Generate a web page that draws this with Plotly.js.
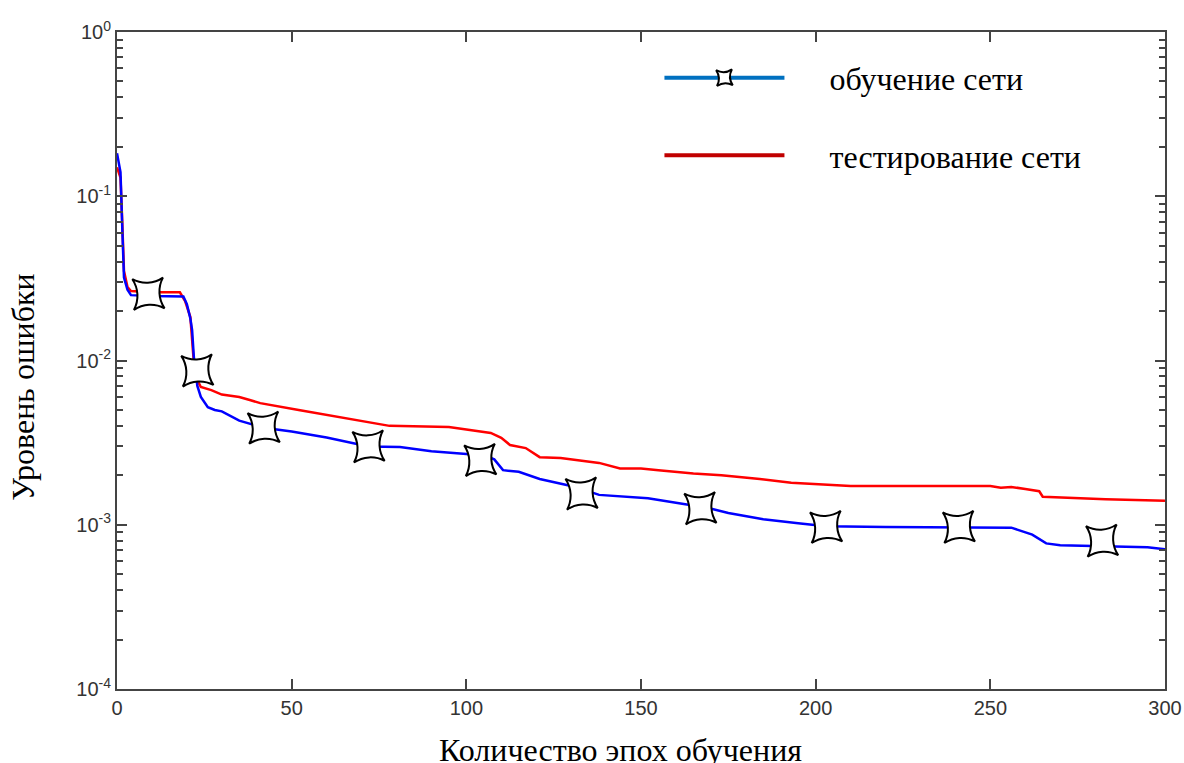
<!DOCTYPE html>
<html>
<head>
<meta charset="utf-8">
<script src="https://cdn.plot.ly/plotly-3.0.1.min.js"></script>
<style>html,body{margin:0;padding:0;background:#fff;}#chart{width:1184px;height:763px;}</style>
</head>
<body>
<div id="chart"></div>
<script>
// Training error (blue)
const trainEpochs = [0, 0.5, 1, 1.5, 2, 3, 4, 10, 19, 20, 21, 21.5, 22, 23, 24, 26, 28, 30, 35, 42, 50, 60, 72, 81, 90, 100, 106, 108, 110.5, 115, 121, 130, 133, 138, 152, 164, 167, 175, 185, 195, 203, 220, 240, 252, 256, 262, 266, 270, 295, 300];
const trainError  = [0.183, 0.16, 0.14, 0.065, 0.032, 0.027, 0.025, 0.0247, 0.0245, 0.022, 0.018, 0.0153, 0.0105, 0.0070, 0.0060, 0.0052, 0.0050, 0.0049, 0.0043, 0.0039, 0.0037, 0.0034, 0.0030, 0.00297, 0.0028, 0.0027, 0.0026, 0.0025, 0.00215, 0.0021, 0.0019, 0.00172, 0.00165, 0.00152, 0.00145, 0.00132, 0.0013, 0.00118, 0.00108, 0.00102, 0.00098, 0.00097, 0.00097, 0.00097, 0.00096, 0.00087, 0.00077, 0.00075, 0.00073, 0.00071];
// Testing error (red)
const testEpochs = [0, 1, 1.5, 2, 3, 4, 10, 18, 19.5, 21, 22, 23, 24, 27, 30, 35, 38, 41, 52, 67, 78, 95, 101, 107, 110, 112.5, 117, 121, 127, 138, 144, 150, 155, 165, 173, 184, 193, 210, 224, 250, 253, 256, 260, 264, 265, 283, 300];
const testError  = [0.15, 0.13, 0.07, 0.035, 0.028, 0.0265, 0.026, 0.026, 0.023, 0.0184, 0.0097, 0.0076, 0.0069, 0.0066, 0.0062, 0.0060, 0.00575, 0.0055, 0.0050, 0.0044, 0.0040, 0.00394, 0.00377, 0.00362, 0.00338, 0.00306, 0.00293, 0.00258, 0.00255, 0.00238, 0.0022, 0.0022, 0.00215, 0.00205, 0.0020, 0.0019, 0.0018, 0.00172, 0.00172, 0.00172, 0.00168, 0.0017, 0.00165, 0.0016, 0.00148, 0.00143, 0.0014];
// Star markers on the training curve
const markerEpochs = [9, 23, 42, 72, 104, 133, 167, 203, 241, 282];
const markerError  = [0.0255, 0.0087, 0.0039, 0.0030, 0.00248, 0.00155, 0.00126, 0.00097, 0.00097, 0.00080];
// Labels
const trainName = "обучение сети";
const testName = "тестирование сети";
const xTitle = "Количество эпох обучения";
const yTitle = "Уровень ошибки";
const xTicks = [0, 50, 100, 150, 200, 250, 300];
const yTicks = [1e-4, 1e-3, 1e-2, 1e-1, 1];
const yTickText = ["10<sup>-4</sup>", "10<sup>-3</sup>", "10<sup>-2</sup>", "10<sup>-1</sup>", "10<sup>0</sup>"];

const minorVals = [];
for (let e = -4; e < 0; e++) for (let m = 2; m <= 9; m++) minorVals.push(m * Math.pow(10, e));

const serif = 'Liberation Serif, Times New Roman, serif';
const pad = "\u00A0\u00A0\u00A0\u00A0\u00A0";
const traces = [
  {x: testEpochs, y: testError, mode: 'lines', line: {color: '#ff0000', width: 2.5}, showlegend: false, hoverinfo: 'skip'},
  {x: trainEpochs, y: trainError, mode: 'lines', line: {color: '#0000ff', width: 2.5}, showlegend: false, hoverinfo: 'skip'},
  {x: markerEpochs, y: markerError, mode: 'markers', marker: {symbol: 'star-diamond', angle: 42, size: 31, color: '#ffffff', line: {color: '#000000', width: 2}}, showlegend: false, hoverinfo: 'skip'},
  {x: [null], y: [null], name: pad + trainName, legendgroup: 'a', mode: 'lines+markers', line: {color: '#0070c0', width: 4}, marker: {symbol: 'star-diamond', angle: 42, size: 16, color: '#ffffff', line: {color: '#000000', width: 2}}},
  {x: [null], y: [null], name: pad + testName, legendgroup: 'b', mode: 'lines', line: {color: '#c00000', width: 4}}
];

const axisCommon = {showline: true, linecolor: '#444', linewidth: 2, mirror: 'ticks', ticks: 'inside', tickcolor: '#444', tickwidth: 2, ticklen: 10, showgrid: false, zeroline: false, tickfont: {family: 'Liberation Sans, Arial, sans-serif', size: 20, color: '#333'}};

const layout = {
  width: 1184, height: 763,
  paper_bgcolor: '#fff', plot_bgcolor: '#fff',
  margin: {l: 117, r: 19, t: 32, b: 74},
  xaxis: Object.assign({}, axisCommon, {range: [0, 300], tickmode: 'array', tickvals: xTicks, ticktext: xTicks.map(String)}),
  yaxis: Object.assign({}, axisCommon, {type: 'log', range: [-4, 0], tickmode: 'array', tickvals: yTicks, ticktext: yTickText,
    minor: {tickmode: 'array', tickvals: minorVals, ticks: 'inside', ticklen: 6, tickcolor: '#444', tickwidth: 2, showgrid: false}}),
  showlegend: true,
  legend: {x: 0.5176, y: 0.972, xanchor: 'left', yanchor: 'top', bgcolor: 'rgba(0,0,0,0)', borderwidth: 0,
    font: {family: serif, size: 32, color: '#000'},
    itemwidth: 120, traceorder: 'grouped', tracegroupgap: 33},
  annotations: [
    {text: xTitle, xref: 'paper', yref: 'paper', x: 0.48, y: -0.093, xanchor: 'center', yanchor: 'middle', showarrow: false,
     font: {family: serif, size: 32, color: '#000'}},
    {text: yTitle, xref: 'paper', yref: 'paper', x: -0.0897, y: 0.46, xanchor: 'center', yanchor: 'middle', textangle: -90, showarrow: false,
     font: {family: serif, size: 32, color: '#000'}}
  ]
};

Plotly.newPlot('chart', traces, layout, {displayModeBar: false, staticPlot: true});
</script>
</body>
</html>
